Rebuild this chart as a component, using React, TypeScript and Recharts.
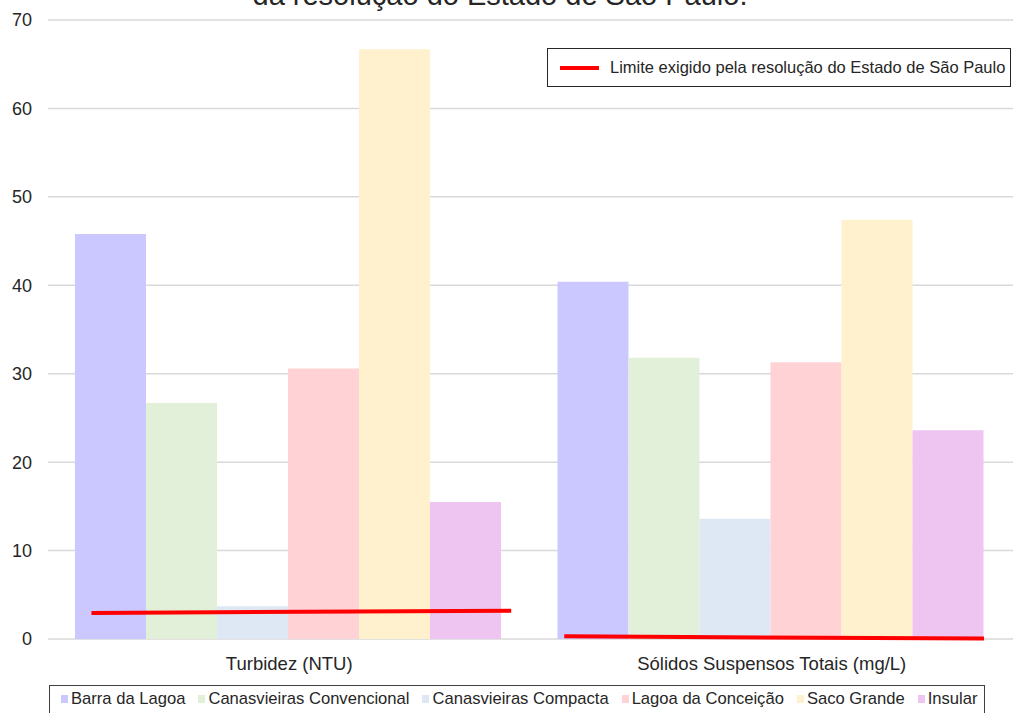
import React from 'react';
import {
  ComposedChart,
  Bar,
  Line,
  XAxis,
  YAxis,
  CartesianGrid,
  Legend,
} from 'recharts';

// categorias (eixo X)
const parametros = ['Turbidez (NTU)', 'Sólidos Suspensos Totais (mg/L)'];

// valores por estação
const barraDaLagoa = [45.8, 40.4];
const canasConvencional = [26.7, 31.8];
const canasCompacta = [3.7, 13.6];
const lagoaConceicao = [30.6, 31.3];
const sacoGrande = [66.7, 47.4];
const insular = [15.5, 23.6];

// linha do limite (posição no eixo auxiliar 0..2, valor)
const limiteX = [0.09, 0.96, 1.0, 1.07, 1.94];
const limiteY: (number | null)[] = [2.95, 3.2, null, 0.3, 0.05];

const yTicks = [0, 10, 20, 30, 40, 50, 60, 70];

const SERIES = [
  { key: 'barra', name: 'Barra da Lagoa', values: barraDaLagoa, color: '#cbc8ff' },
  { key: 'conv', name: 'Canasvieiras Convencional', values: canasConvencional, color: '#e2efd9' },
  { key: 'comp', name: 'Canasvieiras Compacta', values: canasCompacta, color: '#dde8f4' },
  { key: 'lagoa', name: 'Lagoa da Conceição', values: lagoaConceicao, color: '#ffd2d6' },
  { key: 'saco', name: 'Saco Grande', values: sacoGrande, color: '#fff1cd' },
  { key: 'insular', name: 'Insular', values: insular, color: '#edc5f0' },
];

const FONT = '"Liberation Sans", Arial, sans-serif';

const chartData = parametros.map((p, i) => {
  const row: Record<string, string | number> = { parametro: p };
  SERIES.forEach((s) => {
    row[s.key] = s.values[i];
  });
  return row;
});

const limiteData = limiteX.map((x, i) => ({ lx: x, ly: limiteY[i] }));

const BottomLegend = () => (
  <div
    style={{
      boxSizing: 'border-box',
      height: 34,
      width: 936,
      border: '1px solid #404040',
      background: '#fff',
      display: 'flex',
      alignItems: 'flex-start',
      paddingTop: 3,
      paddingLeft: 11,
      gap: 13,
      fontFamily: FONT,
      fontSize: 16.6,
      color: '#262626',
      whiteSpace: 'nowrap',
    }}
  >
    {SERIES.map((s) => (
      <div key={s.key} style={{ display: 'flex', alignItems: 'center' }}>
        <span
          style={{
            display: 'inline-block',
            width: 7,
            height: 8,
            background: s.color,
            marginRight: 3,
          }}
        />
        <span>{s.name}</span>
      </div>
    ))}
  </div>
);

const App: React.FC = () => {
  return (
    <div
      style={{
        position: 'absolute',
        left: 0,
        top: 0,
        width: 1013,
        height: 713,
        overflow: 'hidden',
        background: '#fff',
      }}
    >
      {/* título (cortado no topo) */}
      <div
        style={{
          position: 'absolute',
          top: -22,
          left: 0,
          width: 1000,
          textAlign: 'center',
          fontFamily: FONT,
          fontSize: 29,
          lineHeight: '34px',
          color: '#262626',
        }}
      >
        da resolução do Estado de São Paulo.
      </div>

      <ComposedChart
        width={1013}
        height={713}
        data={chartData}
        margin={{ top: 20, right: 0, left: 0, bottom: 0 }}
        barCategoryGap={27}
        barGap={0}
      >
        <CartesianGrid vertical={false} stroke="#d9d9d9" strokeWidth={1.5} />
        <XAxis
          dataKey="parametro"
          height={40}
          axisLine={false}
          tickLine={false}
          tickSize={0}
          tickMargin={18}
          tick={{ fill: '#262626', fontSize: 18.5, fontFamily: FONT }}
        />
        <XAxis
          xAxisId="lim"
          dataKey="lx"
          type="number"
          domain={[0, 2]}
          hide
        />
        <YAxis
          width={48}
          domain={[0, 70]}
          ticks={yTicks}
          axisLine={false}
          tickLine={false}
          tickSize={0}
          tickMargin={16}
          tick={{ fill: '#262626', fontSize: 18, fontFamily: FONT }}
        />
        {SERIES.map((s) => (
          <Bar
            key={s.key}
            dataKey={s.key}
            name={s.name}
            fill={s.color}
            isAnimationActive={false}
          />
        ))}
        <Line
          xAxisId="lim"
          data={limiteData}
          dataKey="ly"
          name="Limite exigido pela resolução do Estado de São Paulo"
          stroke="#ff0000"
          strokeWidth={4}
          dot={false}
          activeDot={false}
          connectNulls={false}
          isAnimationActive={false}
        />
        <Legend
          verticalAlign="bottom"
          content={() => <BottomLegend />}
          wrapperStyle={{ left: 49, width: 936, bottom: -6 }}
        />
      </ComposedChart>

      {/* legenda da linha do limite */}
      <div
        style={{
          position: 'absolute',
          left: 547,
          top: 48,
          width: 464,
          height: 39,
          boxSizing: 'border-box',
          border: '1px solid #262626',
          background: '#fff',
          display: 'flex',
          alignItems: 'center',
          fontFamily: FONT,
          fontSize: 16.5,
          color: '#262626',
          whiteSpace: 'nowrap',
        }}
      >
        <span
          style={{
            display: 'inline-block',
            width: 39,
            height: 4,
            background: '#ff0000',
            marginLeft: 12,
            marginRight: 11,
          }}
        />
        <span>Limite exigido pela resolução do Estado de São Paulo</span>
      </div>
    </div>
  );
};

export default App;
